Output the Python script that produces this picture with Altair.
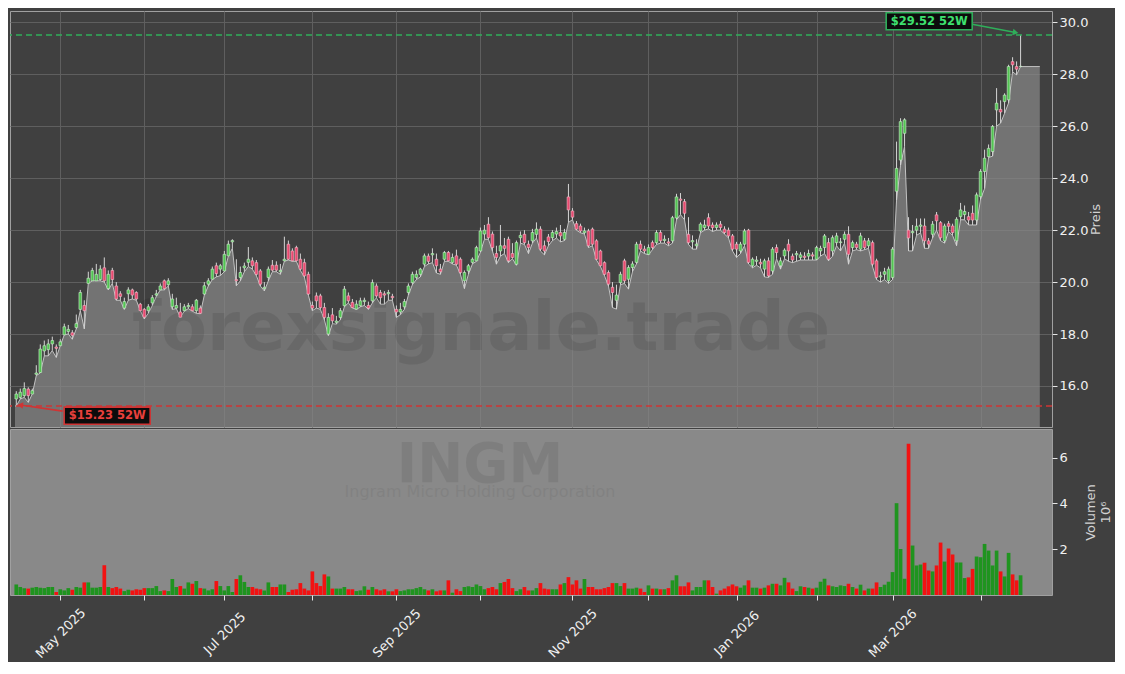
import altair as alt
import numpy as np
import pandas as pd

# ---------------- data ----------------
HOLIDAYS = ["2025-04-18", "2025-05-26", "2025-06-19", "2025-07-04", "2025-09-01",
            "2025-11-27", "2025-12-25", "2026-01-01", "2026-01-19", "2026-02-16", "2026-04-03"]
START, END = "2025-04-15", "2026-04-16"

OPEN = [
    15.50, 15.56, 15.63, 15.88, 15.69, 16.45, 16.52, 17.35, 17.40, 17.62,
    17.50, 17.55, 17.97, 18.10, 18.05, 18.25, 18.95, 19.10, 19.95, 20.05,
    20.05, 20.10, 20.55, 19.75, 20.45, 19.85, 19.55, 19.00, 19.55, 19.70,
    19.60, 19.15, 18.95, 18.90, 19.20, 19.50, 19.70, 20.05, 19.90, 19.05,
    19.00, 18.85, 18.90, 19.05, 19.05, 18.90, 19.00, 19.54, 19.92, 20.11,
    20.63, 20.50, 20.43, 21.01, 21.55, 20.10, 20.18, 20.55, 20.76, 20.82,
    20.75, 20.43, 19.75, 20.18, 20.65, 20.65, 20.40, 20.82, 21.46, 21.20,
    21.33, 20.88, 20.75, 20.30, 19.10, 19.47, 19.47, 19.02, 18.00, 18.74,
    18.45, 18.64, 19.09, 19.47, 19.22, 18.96, 19.09, 19.25, 19.10, 19.28,
    19.85, 19.60, 19.55, 19.55, 19.45, 18.95, 18.85, 19.05, 19.60, 19.98,
    20.18, 20.30, 20.69, 21.00, 21.05, 20.88, 20.50, 20.88, 21.14, 20.76,
    21.01, 20.88, 20.05, 20.43, 20.76, 20.82, 21.20, 21.85, 22.23, 21.85,
    21.10, 21.20, 21.40, 21.65, 21.10, 20.69, 21.71, 21.84, 21.46, 21.59,
    21.84, 22.04, 21.40, 21.74, 21.71, 21.85, 21.91, 21.65, 23.28, 22.74,
    22.25, 22.16, 21.90, 21.97, 22.04, 21.59, 21.20, 20.75, 20.37, 19.80,
    19.30, 19.98, 20.82, 20.11, 20.56, 20.76, 21.46, 21.27, 21.07, 21.52,
    21.52, 21.91, 21.60, 21.55, 21.59, 22.47, 23.20, 23.10, 21.84, 21.55,
    21.40, 21.97, 22.10, 22.48, 22.20, 22.10, 22.23, 22.04, 22.00, 21.78,
    21.46, 21.20, 21.46, 22.00, 20.63, 20.80, 20.76, 20.50, 20.82, 20.43,
    21.33, 20.63, 21.01, 21.46, 21.00, 21.05, 20.95, 21.00, 21.00, 21.05,
    20.88, 21.20, 21.33, 21.52, 21.20, 21.52, 21.52, 21.65, 21.84, 21.33,
    21.46, 21.27, 21.59, 21.40, 21.52, 20.82, 20.20, 20.30, 20.05, 20.18,
    23.50, 24.70, 25.73, 22.00, 21.90, 22.00, 22.15, 22.16, 21.59, 21.84,
    22.59, 22.29, 21.59, 22.25, 22.16, 21.59, 22.52, 22.60, 22.52, 22.65,
    22.39, 23.29, 24.26, 24.83, 25.03, 26.63, 26.65, 26.95, 27.02, 28.49,
    28.30, 28.30,
]
HIGH = [
    15.80, 15.90, 16.14, 15.95, 15.90, 16.80, 17.60, 17.75, 17.80, 17.90,
    17.60, 17.80, 18.40, 18.35, 18.15, 18.75, 19.70, 19.30, 20.40, 20.55,
    20.70, 20.65, 20.95, 20.45, 20.55, 20.00, 19.65, 19.40, 19.80, 19.75,
    19.65, 19.20, 19.00, 19.15, 19.50, 19.70, 19.95, 20.10, 20.15, 19.55,
    19.40, 19.20, 19.15, 19.20, 19.15, 19.35, 19.10, 20.00, 20.15, 20.60,
    20.75, 20.70, 21.20, 21.60, 21.65, 20.88, 20.60, 20.75, 21.35, 20.95,
    20.85, 20.50, 20.00, 20.60, 20.85, 20.80, 20.70, 21.75, 21.60, 21.30,
    21.40, 21.10, 20.90, 20.40, 19.25, 19.60, 19.55, 19.20, 18.80, 19.00,
    18.70, 19.00, 19.85, 19.60, 19.35, 19.30, 19.40, 19.40, 19.25, 20.10,
    19.95, 19.70, 19.65, 19.70, 19.55, 19.10, 19.20, 19.35, 19.95, 20.40,
    20.45, 20.55, 21.10, 21.10, 21.30, 21.10, 20.70, 21.20, 21.20, 21.10,
    21.25, 20.95, 20.45, 20.70, 20.95, 21.40, 22.10, 22.20, 22.50, 21.95,
    21.40, 22.20, 21.70, 21.75, 21.50, 21.60, 21.95, 22.00, 21.60, 22.05,
    22.30, 22.15, 21.60, 21.85, 22.00, 22.10, 22.20, 22.05, 23.78, 22.85,
    22.35, 22.25, 22.10, 22.05, 22.10, 21.65, 21.25, 20.80, 20.45, 20.00,
    19.90, 20.40, 20.90, 20.65, 20.80, 21.55, 21.60, 21.40, 21.45, 21.60,
    22.00, 22.00, 21.80, 21.70, 22.55, 23.40, 23.43, 23.20, 22.50, 21.80,
    21.65, 22.30, 22.40, 22.65, 22.30, 22.30, 22.35, 22.15, 22.10, 21.85,
    21.55, 21.55, 22.05, 22.05, 20.95, 21.00, 20.90, 20.90, 20.95, 21.35,
    21.45, 20.95, 21.30, 21.65, 21.10, 21.20, 21.15, 21.15, 21.25, 21.15,
    21.40, 21.40, 21.85, 21.70, 21.80, 21.90, 21.70, 21.95, 22.15, 21.60,
    21.55, 21.90, 21.70, 21.70, 21.60, 20.90, 20.40, 20.55, 20.60, 21.35,
    25.41, 26.31, 26.31, 22.50, 22.20, 22.45, 22.45, 22.45, 21.70, 22.35,
    22.70, 22.35, 22.25, 22.35, 22.25, 22.50, 23.05, 22.95, 22.70, 22.95,
    23.45, 24.35, 25.10, 25.30, 26.05, 27.47, 27.00, 27.27, 28.37, 28.66,
    28.50, 29.52,
]
LOW = [
    15.23, 15.50, 15.56, 15.37, 15.69, 16.40, 16.50, 17.16, 17.16, 17.36,
    17.10, 17.55, 17.97, 18.00, 17.80, 18.20, 18.90, 18.20, 19.95, 20.05,
    20.05, 20.05, 20.00, 19.70, 19.95, 19.30, 19.30, 18.95, 19.30, 19.35,
    19.30, 18.90, 18.58, 18.80, 19.10, 19.45, 19.70, 19.70, 19.85, 18.95,
    18.98, 18.65, 18.88, 18.98, 18.88, 18.80, 18.78, 19.50, 19.85, 20.10,
    20.20, 20.25, 20.40, 21.00, 21.30, 19.86, 20.05, 20.40, 20.60, 20.50,
    20.25, 19.85, 19.66, 20.05, 20.40, 20.40, 20.30, 20.80, 20.85, 20.80,
    20.80, 20.45, 20.20, 19.50, 18.90, 19.00, 18.95, 18.55, 17.94, 18.40,
    18.38, 18.55, 19.05, 19.20, 19.00, 18.95, 19.05, 19.10, 18.95, 19.20,
    19.40, 19.15, 19.15, 19.30, 19.30, 18.64, 18.75, 18.95, 19.50, 19.90,
    20.10, 20.20, 20.60, 20.70, 20.75, 20.35, 20.30, 20.80, 20.80, 20.70,
    20.65, 20.30, 19.75, 20.30, 20.70, 20.80, 21.15, 21.65, 21.65, 21.20,
    20.69, 21.00, 21.10, 20.75, 20.90, 20.65, 21.50, 21.45, 21.10, 21.50,
    21.70, 21.20, 21.05, 21.40, 21.60, 21.70, 21.55, 21.60, 22.30, 22.40,
    22.00, 21.90, 21.85, 21.33, 21.40, 20.85, 20.60, 20.25, 19.85, 19.02,
    18.96, 19.90, 19.95, 19.73, 20.40, 20.70, 21.20, 21.10, 21.05, 21.25,
    21.45, 21.50, 21.50, 21.40, 21.50, 22.40, 22.60, 22.40, 21.45, 21.27,
    21.27, 21.90, 22.00, 22.05, 21.95, 22.00, 22.00, 21.85, 21.70, 21.20,
    20.95, 21.10, 21.40, 20.70, 20.55, 20.65, 20.55, 20.20, 20.18, 20.30,
    20.90, 20.50, 20.90, 20.80, 20.75, 20.80, 20.85, 20.85, 20.85, 20.85,
    20.85, 21.00, 21.10, 20.82, 21.00, 21.40, 21.20, 21.50, 20.69, 21.20,
    21.25, 21.20, 21.25, 21.30, 20.60, 20.10, 20.00, 20.10, 19.95, 20.10,
    23.16, 24.50, 25.22, 21.20, 21.20, 21.80, 21.90, 21.30, 21.30, 21.70,
    22.00, 21.60, 21.50, 21.95, 21.80, 21.40, 22.40, 22.40, 22.20, 22.20,
    22.20, 23.20, 23.60, 24.80, 24.85, 26.00, 26.12, 26.50, 26.90, 28.10,
    27.98, 28.30,
]
CLOSE = [
    15.69, 15.76, 15.90, 15.63, 15.82, 16.50, 17.42, 17.55, 17.62, 17.75,
    17.45, 17.70, 18.28, 18.18, 17.95, 18.40, 19.60, 18.90, 20.15, 20.45,
    20.30, 20.50, 20.05, 20.30, 20.10, 19.35, 19.45, 19.25, 19.70, 19.50,
    19.35, 18.90, 18.65, 19.05, 19.40, 19.55, 19.85, 19.75, 20.05, 19.35,
    19.10, 18.65, 19.05, 19.10, 18.90, 19.30, 18.80, 19.86, 20.05, 20.50,
    20.33, 20.63, 21.07, 21.46, 21.60, 20.05, 20.37, 20.62, 20.88, 20.63,
    20.30, 19.92, 19.80, 20.50, 20.46, 20.46, 20.45, 20.88, 20.88, 20.82,
    20.82, 20.50, 20.24, 19.54, 19.00, 19.28, 19.02, 18.64, 18.64, 18.51,
    18.50, 18.90, 19.73, 19.28, 19.02, 19.15, 19.28, 19.30, 19.00, 19.98,
    19.47, 19.40, 19.50, 19.60, 19.40, 18.85, 18.95, 19.25, 19.85, 20.30,
    20.30, 20.50, 21.01, 20.80, 21.10, 20.63, 20.40, 21.14, 20.82, 20.95,
    20.69, 20.37, 20.37, 20.63, 20.88, 21.33, 21.97, 22.00, 21.71, 21.33,
    20.95, 21.40, 21.30, 20.82, 20.95, 21.52, 21.80, 21.52, 21.33, 21.91,
    22.04, 21.27, 21.20, 21.56, 21.91, 21.95, 21.78, 21.91, 22.78, 22.50,
    22.04, 21.97, 21.97, 21.40, 21.46, 20.88, 20.63, 20.30, 19.92, 19.60,
    19.50, 20.30, 20.05, 20.56, 20.70, 21.46, 21.27, 21.20, 21.33, 21.33,
    21.91, 21.59, 21.65, 21.50, 22.48, 23.28, 23.15, 22.65, 21.52, 21.60,
    21.46, 22.23, 22.20, 22.16, 22.10, 22.20, 22.10, 21.91, 21.78, 21.27,
    21.27, 21.46, 21.97, 20.76, 20.88, 20.85, 20.70, 20.82, 20.24, 21.27,
    21.14, 20.82, 21.23, 21.20, 20.85, 21.10, 21.05, 20.95, 21.10, 21.00,
    21.33, 21.30, 21.78, 20.88, 21.71, 21.78, 21.55, 21.84, 21.07, 21.52,
    21.33, 21.78, 21.33, 21.59, 20.69, 20.18, 20.24, 20.40, 20.50, 21.27,
    24.38, 26.18, 26.25, 21.70, 21.95, 22.15, 22.20, 21.59, 21.46, 22.23,
    22.36, 21.71, 22.16, 22.15, 21.91, 22.42, 22.78, 22.72, 22.39, 22.39,
    23.36, 24.26, 24.77, 25.15, 25.99, 26.89, 26.55, 27.20, 28.30, 28.37,
    28.20, 28.31,
]
VOLUME_M = [
    0.46, 0.35, 0.30, 0.28, 0.32, 0.35, 0.32, 0.30, 0.35, 0.35,
    0.13, 0.25, 0.20, 0.30, 0.23, 0.35, 0.32, 0.55, 0.55, 0.32,
    0.32, 0.35, 1.30, 0.35, 0.30, 0.35, 0.28, 0.17, 0.23, 0.20,
    0.25, 0.23, 0.30, 0.30, 0.30, 0.39, 0.17, 0.20, 0.17, 0.70,
    0.35, 0.39, 0.28, 0.55, 0.49, 0.61, 0.30, 0.28, 0.20, 0.25,
    0.61, 0.39, 0.20, 0.39, 0.13, 0.70, 0.86, 0.57, 0.35, 0.35,
    0.28, 0.25, 0.20, 0.55, 0.35, 0.35, 0.46, 0.46, 0.13, 0.23,
    0.25, 0.52, 0.28, 0.20, 1.03, 0.52, 0.39, 0.90, 0.81, 0.28,
    0.28, 0.28, 0.35, 0.25, 0.25, 0.17, 0.20, 0.38, 0.23, 0.35,
    0.25, 0.20, 0.25, 0.16, 0.16, 0.25, 0.17, 0.20, 0.25, 0.25,
    0.30, 0.35, 0.25, 0.20, 0.25, 0.16, 0.20, 0.20, 0.64, 0.10,
    0.25, 0.17, 0.35, 0.38, 0.35, 0.46, 0.39, 0.25, 0.30, 0.35,
    0.25, 0.52, 0.57, 0.70, 0.30, 0.17, 0.25, 0.35, 0.20, 0.20,
    0.30, 0.52, 0.28, 0.25, 0.25, 0.25, 0.46, 0.52, 0.78, 0.46,
    0.64, 0.28, 0.70, 0.35, 0.35, 0.25, 0.25, 0.30, 0.35, 0.52,
    0.52, 0.39, 0.52, 0.28, 0.28, 0.32, 0.28, 0.13, 0.42, 0.28,
    0.28, 0.25, 0.25, 0.30, 0.64, 0.86, 0.38, 0.38, 0.55, 0.20,
    0.35, 0.35, 0.64, 0.64, 0.35, 0.06, 0.20, 0.28, 0.38, 0.46,
    0.38, 0.32, 0.42, 0.64, 0.32, 0.32, 0.28, 0.32, 0.42, 0.49,
    0.49, 0.42, 0.75, 0.55, 0.28, 0.17, 0.38, 0.35, 0.32, 0.28,
    0.32, 0.58, 0.71, 0.42, 0.38, 0.35, 0.42, 0.39, 0.49, 0.35,
    0.28, 0.45, 0.20, 0.28, 0.28, 0.55, 0.35, 0.45, 0.58, 1.00,
    4.01, 2.01, 0.71, 6.61, 2.16, 1.29, 1.33, 1.41, 1.07, 1.03,
    1.29, 2.29, 1.46, 2.03, 1.77, 1.42, 1.42, 0.74, 0.77, 1.14,
    1.68, 1.65, 2.23, 1.94, 1.29, 1.94, 1.03, 0.81, 1.84, 0.90,
    0.64, 0.86,
]

MONTH_KEYS = ["2025-05", "2025-06", "2025-07", "2025-08", "2025-09", "2025-10",
              "2025-11", "2025-12", "2026-01", "2026-02", "2026-03", "2026-04"]
MONTH_LABELS = ["May 2025", "", "Jul 2025", "", "Sep 2025", "", "Nov 2025", "",
                "Jan 2026", "", "Mar 2026", ""]
PRICE_TICKS = [16, 18, 20, 22, 24, 26, 28, 30]
VOL_TICKS = [2, 4, 6]
WATERMARK = ["forexsignale.trade"]
TICKER = ["INGM"]
COMPANY = ["Ingram Micro Holding Corporation"]

# ---------------- tables ----------------
dates = pd.bdate_range(START, END, freq="C", holidays=HOLIDAYS)
n = len(OPEN)
dates = dates[:n]
ym = dates.strftime("%Y-%m")
month_idx = [int(np.argmax(ym == k)) for k in MONTH_KEYS]

df = pd.DataFrame({
    "idx": np.arange(n), "date": dates.strftime("%Y-%m-%d"),
    "open": OPEN, "high": HIGH, "low": LOW, "close": CLOSE, "vol": VOLUME_M,
})

X_DOMAIN = [-0.32, 257.6]
AREA_END = 255.8
P_DOMAIN = [14.42, 30.44]
V_DOMAIN = [0, 7.25]

area_df = pd.concat([
    pd.DataFrame({"idx": [X_DOMAIN[0]], "low": [LOW[0]]}),
    df[["idx", "low"]],
    pd.DataFrame({"idx": [AREA_END], "low": [LOW[-1]]}),
], ignore_index=True)

HI = max(HIGH)
LO = min(LOW)
hi_i = int(np.argmax(HIGH))
lo_i = int(np.argmin(LOW))
hi_df = pd.DataFrame({"idx": [hi_i], "price": [HI], "label": [f"${HI:.2f} 52W"]})
lo_df = pd.DataFrame({"idx": [lo_i], "price": [LO], "label": [f"${LO:.2f} 52W"]})

# ---------------- style ----------------
FONT = "DejaVu Sans"
BG = "#404040"
AREA = "#898989"
GRID = "#5f5f5f"
FRAME = "#a0a0a0"
WICK = "#d4d4d4"
UP_FILL, UP_EDGE = "#52c452", "#cdeecd"
DN_FILL, DN_EDGE = "#e8496f", "#f6b9c8"
VUP, VDN = "#1f941f", "#f21212"
HI_COL, HI_TXT = "#2fae5a", "#3ee06f"
LO_COL, LO_TXT = "#d03434", "#e8403c"
W, H1, H2 = 1042, 416, 166
RECT = "M-1,-0.198H1V0.198H-1Z"

xs = alt.Scale(domain=X_DOMAIN, nice=False, zero=False)
ys = alt.Scale(domain=P_DOMAIN, nice=False, zero=False)
vs = alt.Scale(domain=V_DOMAIN, nice=False, zero=False)

x_axis_top = alt.Axis(values=month_idx, grid=True, gridColor=GRID, gridWidth=1,
                      labels=False, ticks=False, domain=False, title=None)
y_axis_p = alt.Axis(orient="right", values=PRICE_TICKS, format=".1f", grid=True,
                    gridColor=GRID, gridWidth=1, domain=False, tickSize=5,
                    title="Preis", titleAngle=270, titleBaseline="top",
                    titleAlign="center", titlePadding=2)

label_expr = " : ".join(f"datum.value == {i} ? '{lab}'"
                        for i, lab in zip(month_idx, MONTH_LABELS) if lab) + " : ''"
x_axis_bot = alt.Axis(values=month_idx, labelExpr=label_expr, grid=False, ticks=True,
                      tickSize=5, domain=False, title=None, labelAngle=315,
                      labelAlign="center", labelBaseline="middle", labelPadding=33,
                      labelOverlap=False, labelBound=False, labelFlush=False)
y_axis_v = alt.Axis(orient="right", values=VOL_TICKS, format="d", grid=False,
                    domain=False, tickSize=5, title=["Volumen", "10⁶"],
                    titleAngle=270, titleBaseline="top", titleAlign="center",
                    titlePadding=2)

X = alt.X("idx:Q", scale=xs, axis=x_axis_top)


def Y(field):
    return alt.Y(f"{field}:Q", scale=ys, axis=y_axis_p)


up = "datum.close >= datum.open"

area = alt.Chart(area_df).mark_area(
    color=AREA, clip=True,
    line=alt.OverlayMarkDef(color="#c2c2c2", strokeWidth=1, clip=True),
).encode(x=X, y=Y("low"))

wm = alt.Chart(pd.DataFrame({"t": WATERMARK})).mark_text(
    font=FONT, fontSize=67, fontWeight="bold", color="#000000", opacity=0.085,
    align="center", baseline="middle",
).encode(text="t:N", x=alt.value(471), y=alt.value(319))

wicks = alt.Chart(df).mark_rule(strokeWidth=1, color=WICK).encode(
    x=X, y=Y("low"), y2="high:Q")

bodies = alt.Chart(df).mark_bar(width=2.7, strokeWidth=0.6).encode(
    x=X, y=Y("open"), y2="close:Q",
    fill=alt.condition(up, alt.value(UP_FILL), alt.value(DN_FILL)),
    stroke=alt.condition(up, alt.value(UP_EDGE), alt.value(DN_EDGE)),
)

hi_line = alt.Chart(hi_df).mark_rule(color=HI_COL, strokeWidth=1.5, strokeDash=[6, 4]).encode(y=Y("price"))
lo_line = alt.Chart(lo_df).mark_rule(color=LO_COL, strokeWidth=1.5, strokeDash=[6, 4]).encode(y=Y("price"))


def annotation(d, col, txt, box_off, arr_start, arr_end, head_shape, head_angle):
    base = alt.Chart(d)
    arrow = base.mark_rule(color=col, strokeWidth=1.6,
                           xOffset=arr_start[0], yOffset=arr_start[1],
                           x2Offset=arr_end[0], y2Offset=arr_end[1]).encode(
        x=X, y=Y("price"), x2="idx:Q", y2="price:Q")
    head = base.mark_point(shape=head_shape, size=42, filled=True, color=col, opacity=1,
                           angle=head_angle, xOffset=arr_end[0], yOffset=arr_end[1]).encode(
        x=X, y=Y("price"))
    box = base.mark_point(shape=RECT, size=86 * 86, filled=False, fill="#0c0c0c",
                          fillOpacity=1, stroke=col, strokeWidth=1.6, opacity=1,
                          xOffset=box_off[0], yOffset=box_off[1]).encode(x=X, y=Y("price"))
    text = base.mark_text(font=FONT, fontSize=11.5, fontWeight="bold", color=txt,
                          align="center", baseline="middle",
                          dx=box_off[0], dy=box_off[1] + 0.5).encode(
        x=X, y=Y("price"), text="label:N")
    return [arrow, head, box, text]


hi_ann = annotation(hi_df, HI_COL, HI_TXT, (-91.4, -13.7), (-48.4, -10.7), (-5.0, -2.4),
                    "triangle-right", 11)
lo_ann = annotation(lo_df, LO_COL, LO_TXT, (90.9, 9.7), (46.4, 5.2), (4.0, -0.9),
                    "triangle-left", 8)

price = alt.layer(area, wm, wicks, bodies, hi_line, lo_line, *hi_ann, *lo_ann).properties(
    width=W, height=H1,
    view=alt.ViewBackground(fill=BG, stroke=FRAME, strokeWidth=1),
)

ticker = alt.Chart(pd.DataFrame({"t": TICKER})).mark_text(
    font=FONT, fontSize=55, fontWeight="bold", color="#000000", opacity=0.075,
    align="center", baseline="alphabetic",
).encode(text="t:N", x=alt.value(470), y=alt.value(53))
company = alt.Chart(pd.DataFrame({"t": COMPANY})).mark_text(
    font=FONT, fontSize=16, color="#000000", opacity=0.05,
    align="center", baseline="alphabetic",
).encode(text="t:N", x=alt.value(470), y=alt.value(68))

vbars = alt.Chart(df).mark_bar(width=3.7).encode(
    x=alt.X("idx:Q", scale=xs, axis=x_axis_bot),
    y=alt.Y("vol:Q", scale=vs, axis=y_axis_v),
    color=alt.condition(up, alt.value(VUP), alt.value(VDN)),
)

volume = alt.layer(ticker, company, vbars).properties(
    width=W, height=H2,
    view=alt.ViewBackground(fill=AREA, stroke=FRAME, strokeWidth=1),
)

chart = alt.vconcat(price, volume, spacing=0).properties(
    padding={"left": 0, "top": 0, "right": 2, "bottom": 0},
).configure(
    background=BG,
    font=FONT,
).configure_axis(
    labelFont=FONT, titleFont=FONT, labelFontSize=13, titleFontSize=13,
    labelColor="#f0f0f0", titleColor="#d2d2d2", tickColor="#e6e6e6",
    titleFontWeight="normal",
)

chart.save("out.html", embed_options={"renderer": "svg", "actions": False})
